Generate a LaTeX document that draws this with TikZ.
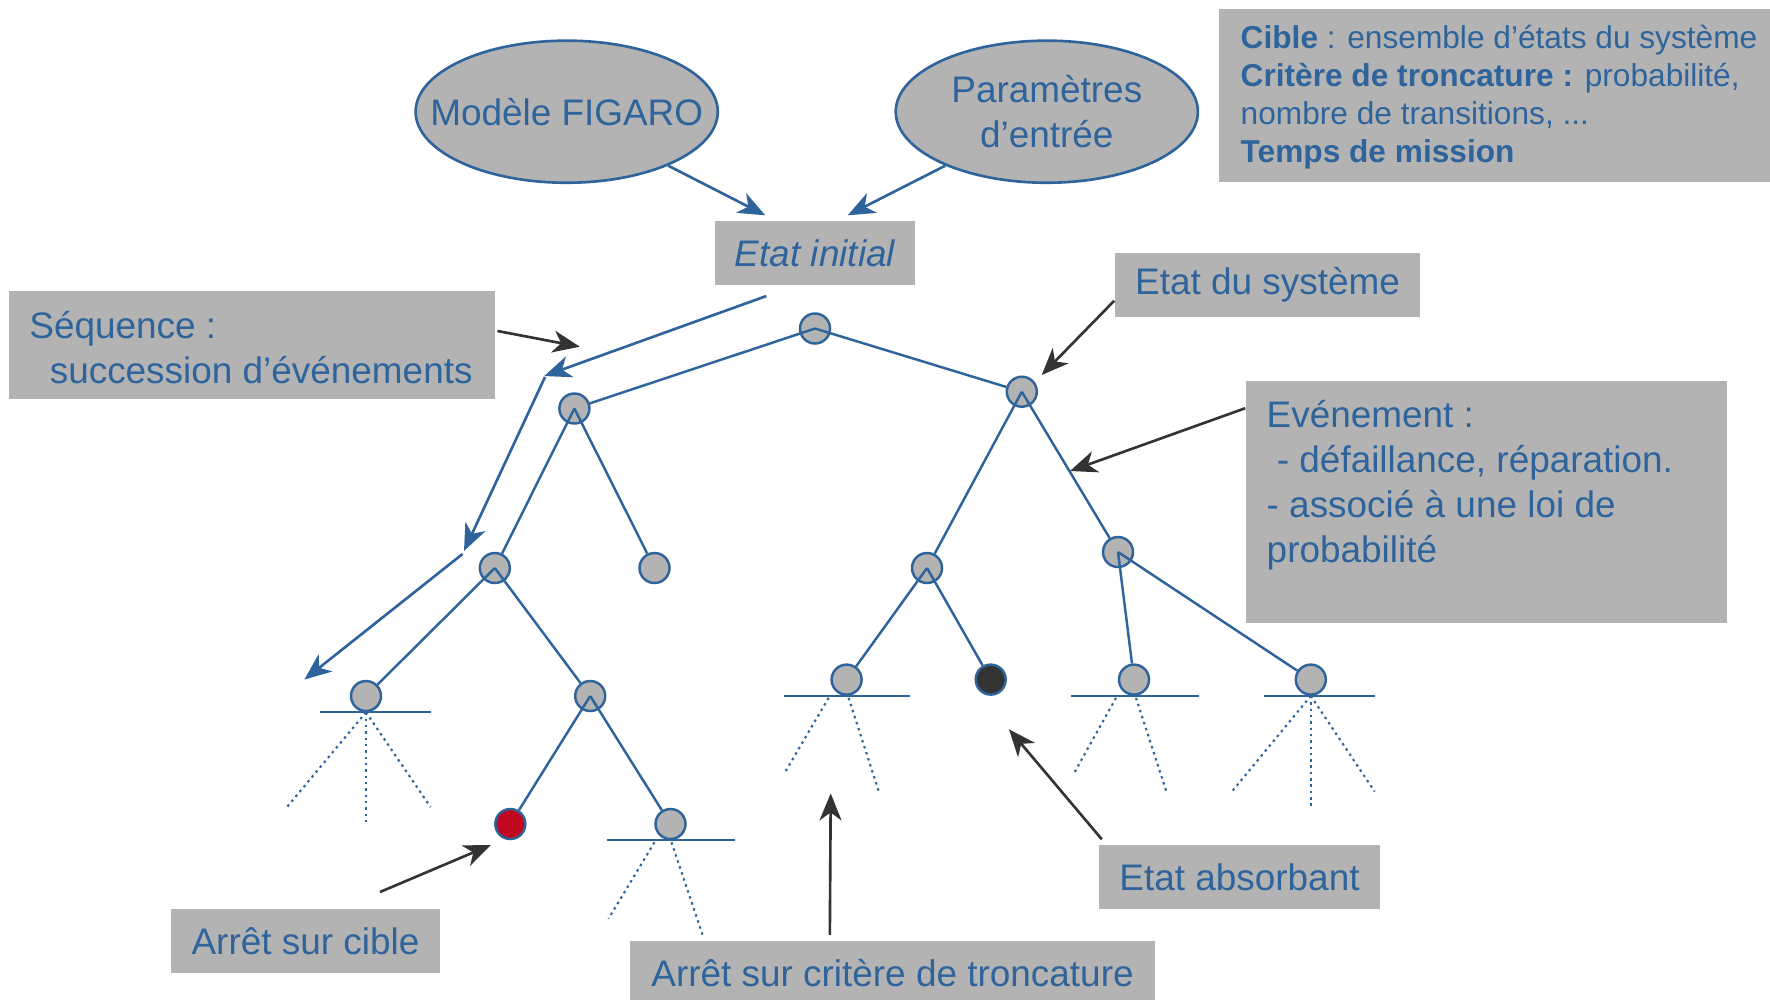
\documentclass[tikz,border=0pt]{standalone}
\usepackage{fontspec}
\setmainfont{Liberation Sans}
\usetikzlibrary{arrows.meta,shapes.geometric,calc}
\definecolor{fblue}{RGB}{46,100,155}
\definecolor{fgray}{RGB}{179,179,179}
\definecolor{fdark}{RGB}{51,51,51}
\definecolor{fred}{RGB}{192,9,31}
\begin{document}
\begin{tikzpicture}[x=0.01cm,y=-0.01cm,
  mainfont/.style={font=\fontsize{10.5}{12.8}\selectfont},
  graybox/.style={fill=fgray, inner sep=0pt, text=fblue, mainfont},
  txt/.style={text=fblue, inner sep=0pt, align=left, mainfont},
  ell/.style={ellipse, draw=fblue, line width=0.75pt, fill=fgray, minimum width=3.02cm, minimum height=1.42cm, inner sep=0pt, text=fblue, align=center, mainfont},
  st/.style={circle, draw=fblue, line width=0.7pt, fill=fgray, minimum size=0.3cm, inner sep=0pt},
  treeline/.style={draw=fblue, line width=0.7pt},
  truncbar/.style={draw=fblue, line width=0.8pt},
  dots/.style={draw=fblue, line width=0.6pt, dash pattern=on 0.7pt off 1.1pt},
  tip/.style={-{Stealth[length=0.27cm,width=0.22cm,inset=0.08cm]}},
  barrow/.style={draw=fblue, line width=0.75pt, tip},
  karrow/.style={draw=fdark, line width=0.75pt, tip}]
\useasboundingbox (0,0) rectangle (1770,999);

% ellipses and top boxes
\node[ell] (figaro) at (566.7,111.7) {\makebox[0pt]{Modèle FIGARO}};
\node[ell] (param) at (1046.8,111.7) {\makebox[0pt]{Paramètres}\\\makebox[0pt]{d’entrée}};
\node[graybox, minimum width=2.0cm, minimum height=0.64cm, font=\fontsize{10.5}{12.8}\selectfont\itshape] (init) at (815,253) {Etat initial};

\node[graybox, minimum width=5.51cm, minimum height=1.73cm] (cibleBox) at (1494.5,95.5) {};
\node[txt, anchor=west, font=\fontsize{9}{10.8}\selectfont] (cibleTxt) at (1240,97) {\textbf{Cible} : ensemble d’états du système\\\textbf{Critère de troncature :} probabilité,\\nombre de transitions, ...\\\textbf{Temps de mission}};

\node[graybox, minimum width=4.86cm, minimum height=1.08cm] (seqBox) at (252,345) {};
\node[txt, anchor=west] (seqTxt) at (28.7,347.5) {Séquence :\\\hspace*{5.8pt}succession d’événements};

\node[graybox, minimum width=3.05cm, minimum height=0.64cm] (sysBox) at (1267.5,285) {\raisebox{-1pt}{Etat du système}};

\node[graybox, minimum width=4.81cm, minimum height=2.42cm] (evtBox) at (1486.5,502) {};
\node[txt, anchor=west] (evtTxt) at (1266,485.5) {Evénement :\\\hspace*{2.9pt}- défaillance, réparation.\\- associé à une loi de\\probabilité};

\node[graybox, minimum width=2.81cm, minimum height=0.64cm] (absBox) at (1239.5,877) {Etat absorbant};
\node[graybox, minimum width=5.24cm, minimum height=0.64cm] (critBox) at (892.5,973) {Arrêt sur critère de troncature};
\node[graybox, minimum width=2.69cm, minimum height=0.64cm] (cibBox) at (305.5,941) {Arrêt sur cible};

% tree nodes
\node[st] (root) at (815,328.5) {};
\node[st] (a1) at (574.4,408.5) {};
\node[st] (b1) at (1021.8,391.7) {};
\node[st] (a2) at (494.8,568) {};
\node[st] (a3) at (654.5,568) {};
\node[st] (b2) at (927,568) {};
\node[st] (b3) at (1118,552) {};
\node[st] (c1) at (366,696) {};
\node[st] (c2) at (590.2,696) {};
\node[st] (d1) at (846.6,679.6) {};
\node[st, fill=fdark] (d2) at (990.7,679.6) {};
\node[st] (d3) at (1134,679.6) {};
\node[st] (d4) at (1310.8,679.6) {};
\node[st, fill=fred] (e1) at (510.3,824) {};
\node[st] (e2) at (670.5,824) {};

% tree edges
\foreach \p/\c in {root/a1,root/b1,a1/a2,a1/a3,b1/b2,b1/b3,a2/c1,a2/c2,c2/e1,c2/e2,b2/d1,b2/d2,b3/d3,b3/d4}
  \draw[treeline] (\p.center) -- (\c);

% truncation bars
\draw[truncbar] (319.7,712) -- (430.5,712);
\draw[truncbar] (607.3,840) -- (734.8,840);
\draw[truncbar] (783.8,696) -- (910,696);
\draw[truncbar] (1071.4,696) -- (1199,696);
\draw[truncbar] (1264,696) -- (1374.6,696);

% dotted continuations
\coordinate (c1l) at (287,807); \coordinate (c1m) at (366,824); \coordinate (c1r) at (430.5,807);
\draw[dots] (c1.south) -- (c1l); \draw[dots] (c1.south) -- (c1m); \draw[dots] (c1.south) -- (c1r);
\coordinate (e2l) at (608.5,918.7); \coordinate (e2r) at (703.2,936.7);
\draw[dots] ($(e2.south)+(-16,2)$) -- (e2l); \draw[dots] ($(e2.south)+(1,2)$) -- (e2r);
\coordinate (d1l) at (783.8,774.3); \coordinate (d1r) at (878.8,791.5);
\draw[dots] ($(d1.south)+(-18,2)$) -- (d1l); \draw[dots] ($(d1.south)+(2,2)$) -- (d1r);
\coordinate (d3l) at (1073.4,774.3); \coordinate (d3r) at (1166.4,791.5);
\draw[dots] ($(d3.south)+(-18,2)$) -- (d3l); \draw[dots] ($(d3.south)+(2,2)$) -- (d3r);
\coordinate (d4l) at (1232.8,790.4); \coordinate (d4m) at (1310.8,808); \coordinate (d4r) at (1374.6,791.5);
\draw[dots] (d4.south) -- (d4l); \draw[dots] (d4.south) -- (d4m); \draw[dots] (d4.south) -- (d4r);

% blue input arrows
\coordinate (figTip) at ($(init.north west)+(51,-5)$);
\coordinate (parTip) at ($(init.north west)+(133.5,-5)$);
\draw[barrow] (figaro.-28) -- (figTip);
\draw[barrow] (param.-152) -- (parTip);

% sequence arrows
\coordinate (s1a) at (766.4,296); \coordinate (s1b) at (544.2,376);
\coordinate (s2a) at (545,377);   \coordinate (s2b) at (464,551);
\coordinate (s3a) at (462.5,554); \coordinate (s3b) at (304.3,679.6);
\draw[barrow] (s1a) -- (s1b);
\draw[barrow] (s2a) -- (s2b);
\draw[barrow] (s3a) -- (s3b);

% black annotation arrows
\coordinate (seqTail) at ($(seqBox.north east)+(1.6,40.7)$); \coordinate (seqTip) at (579.8,346.7);
\draw[karrow] (seqTail) -- (seqTip);
\coordinate (sysTail) at ($(sysBox.south west)+(0,-17)$); \coordinate (sysTip) at (1041.7,375);
\draw[karrow] (sysTail) -- (sysTip);
\coordinate (evtTail) at ($(evtBox.north west)+(0,28)$); \coordinate (evtTip) at (1070,471);
\draw[karrow] (evtTail) -- (evtTip);
\coordinate (absTail) at ($(absBox.north west)+(3.6,-5)$); \coordinate (absTip) at (1009,729.3);
\draw[karrow] (absTail) -- (absTip);
\coordinate (critTail) at ($(critBox.north west)+(200.2,-5.5)$); \coordinate (critTip) at (830.7,793.4);
\draw[karrow] (critTail) -- (critTip);
\coordinate (cibTail) at (380,892); \coordinate (cibTip) at (490.8,845);
\draw[karrow] (cibTail) -- (cibTip);
\end{tikzpicture}
\end{document}
